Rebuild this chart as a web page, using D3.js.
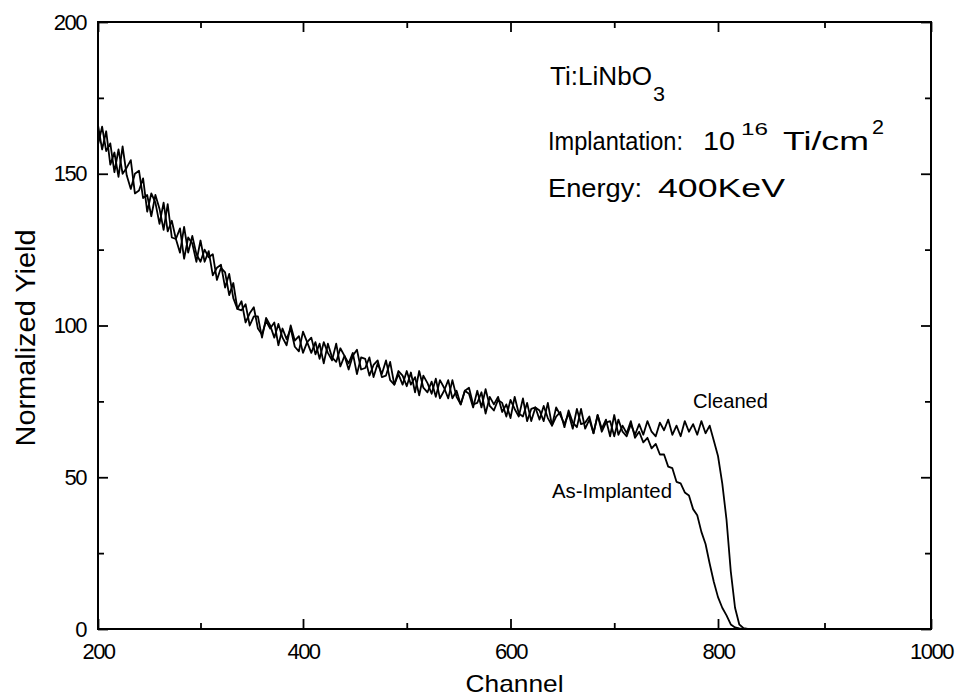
<!DOCTYPE html>
<html>
<head>
<meta charset="utf-8">
<script src="https://cdn.jsdelivr.net/npm/d3@7"></script>
<style>
  body { margin: 0; background: #fff; }
  text { font-family: "Liberation Sans", Arial, sans-serif; fill: #000; }
</style>
</head>
<body>
<svg id="chart" width="956" height="700"></svg>
<script>
// RBS spectra, Ti:LiNbO3, every 4 channels
const channel = d3.range(200, 832, 4).concat([860, 900, 950, 1000]);

const asImplanted = [
  166, 158, 164, 153, 157, 149, 159, 149.5, 145, 150,
  151, 142, 143, 136, 143, 138.5, 131.5, 140, 129, 128.5,
  132, 122, 129, 127, 121, 128, 121, 124.5, 116.5, 119,
  120, 112.5, 117, 109, 105.5, 108, 101, 104, 106, 99,
  97, 101.5, 99, 101, 93.5, 99, 95.5, 99, 93, 91.5,
  98, 94.5, 91, 94.5, 89, 94.5, 91, 88.5, 94, 86.5,
  90, 87.5, 91, 84, 89.5, 89, 83.5, 87, 88.5, 83,
  83.5, 88, 80.5, 84, 80.5, 85, 80.5, 83, 77, 83.5,
  81, 77.5, 82.5, 76, 78.5, 82, 76, 78.5, 74, 78.5,
  79.5, 74, 74.5, 78, 71, 76.5, 74, 76.5, 71.5, 74,
  69.5, 76.5, 71, 70, 74.5, 68.5, 73, 72, 68.5, 74.5,
  67, 70, 71.5, 66.5, 72, 68, 66.5, 72.5, 66, 69,
  64.5, 70.5, 66, 69, 63.5, 70.5, 64, 67, 64.5, 68.5, 63,
  65, 61.5, 63, 59.5, 61, 57.5, 57.5, 53.5, 53, 48.5,
  48, 45, 44, 39.5, 37.5, 32, 28, 21.5, 15.5, 10.5,
  7, 4.5, 1.5, 0.5, 0.2, 0, 0,
  0, 0, 0, 0
];

const cleaned = [
  159.5, 165.5, 157.5, 160, 150.5, 158, 150, 152, 154.5, 143.5,
  144.5, 148.5, 137.5, 143.5, 140.5, 133.5, 140.5, 131, 134.5, 128.5,
  124, 132.5, 124, 129.5, 123.5, 121, 125, 122.5, 123.5, 115,
  119, 117.5, 110, 114, 105.5, 105, 107, 100, 103, 103,
  96, 102.5, 100, 96, 100.5, 96, 93.5, 100, 95, 96.5,
  91, 94.5, 96, 90.5, 94, 87.5, 94, 89.5, 88, 92.5,
  90, 85.5, 90, 92, 85.5, 86, 89.5, 83, 87.5, 84,
  88.5, 82, 80.5, 85, 83.5, 80, 84.5, 78, 85, 79.5,
  78, 81.5, 76.5, 82, 79.5, 76, 82, 76.5, 74, 78.5,
  77.5, 73, 78.5, 73, 79, 73.5, 72, 75.5, 74.5, 70,
  75.5, 72.5, 70, 76, 68.5, 72.5, 73, 69, 73.5, 69.5,
  67, 73, 70.5, 67.5, 71, 66, 72.5, 67.5, 68, 70,
  64.5, 70.5, 65, 68, 68.5, 63.5, 69, 65, 63.5, 67.5, 64,
  67.5, 64, 68.5, 65, 63.5, 68, 65.5, 69, 64, 67,
  63.5, 68.5, 65, 67.5, 64, 68.5, 64.5, 67, 62, 57,
  48, 36, 19, 7, 1.5, 0.3, 0,
  0, 0, 0, 0
];

const xMajor = [200, 400, 600, 800, 1000];
const xMinor = [300, 500, 700, 900];
const yMajor = [0, 50, 100, 150, 200];
const yMinor = [25, 75, 125, 175];

const svg = d3.select("#chart");

// the scanned axis is slightly stretched, so the channel scale is calibrated on the ticks
const x = d3.scaleLinear().domain([200, 400, 800, 1000]).range([98, 303, 718, 931]);
const y = d3.scaleLinear().domain([0, 200]).range([629, 22]);

const [x0, x1] = [x(200), x(1000)];
const [y0, y1] = [y(0), y(200)];

function styleAxis(g) {
  g.select(".domain").remove();
  g.selectAll("line").attr("stroke", "#000").attr("stroke-width", 1.8);
  g.selectAll("text")
    .style("font-size", "22px")
    .style("letter-spacing", "-1.5px");
}

// bottom / top
svg.append("g").attr("transform", `translate(0,${y0})`)
  .call(d3.axisBottom(x).tickValues(xMajor).tickSize(-10).tickPadding(14).tickFormat(d3.format("d")))
  .call(styleAxis);
svg.append("g").attr("transform", `translate(0,${y0})`)
  .call(d3.axisBottom(x).tickValues(xMinor).tickSize(-6).tickFormat(""))
  .call(styleAxis);
svg.append("g").attr("transform", `translate(0,${y1})`)
  .call(d3.axisTop(x).tickValues(xMajor).tickSize(-10).tickFormat(""))
  .call(styleAxis);
svg.append("g").attr("transform", `translate(0,${y1})`)
  .call(d3.axisTop(x).tickValues(xMinor).tickSize(-6).tickFormat(""))
  .call(styleAxis);

// left / right
svg.append("g").attr("transform", `translate(${x0},0)`)
  .call(d3.axisLeft(y).tickValues(yMajor).tickSize(-10).tickPadding(12).tickFormat(d3.format("d")))
  .call(styleAxis);
svg.append("g").attr("transform", `translate(${x0},0)`)
  .call(d3.axisLeft(y).tickValues(yMinor).tickSize(-6).tickFormat(""))
  .call(styleAxis);
svg.append("g").attr("transform", `translate(${x1},0)`)
  .call(d3.axisRight(y).tickValues(yMajor).tickSize(-10).tickFormat(""))
  .call(styleAxis);
svg.append("g").attr("transform", `translate(${x1},0)`)
  .call(d3.axisRight(y).tickValues(yMinor).tickSize(-6).tickFormat(""))
  .call(styleAxis);

// frame
svg.append("rect")
  .attr("x", x0).attr("y", y1)
  .attr("width", x1 - x0).attr("height", y0 - y1)
  .attr("fill", "none").attr("stroke", "#000").attr("stroke-width", 2);

// spectra
const line = d3.line()
  .x((d, i) => x(channel[i]))
  .y(d => y(d));

[asImplanted, cleaned].forEach(s => {
  svg.append("path")
    .datum(s)
    .attr("d", line)
    .attr("fill", "none")
    .attr("stroke", "#000")
    .attr("stroke-width", 1.8)
    .attr("stroke-linejoin", "round");
});

// one <text> per line, pieces (sub/superscripts) as tspans squeezed to the scan's widths
function textLine(parts) {
  const t = svg.append("text");
  parts.forEach(p => {
    t.append("tspan")
      .attr("x", p.x).attr("y", p.y)
      .style("font-size", p.size + "px")
      .attr("textLength", p.len)
      .attr("lengthAdjust", "spacingAndGlyphs")
      .text(p.s);
  });
  return t;
}

// axis titles
textLine([{ s: "Channel", x: (x0 + x1) / 2 - 49, y: 692, size: 24, len: 98 }]);
svg.append("text")
  .attr("text-anchor", "middle")
  .attr("transform", "translate(35,338) rotate(-90)")
  .style("font-size", "27px")
  .attr("textLength", 217)
  .attr("lengthAdjust", "spacingAndGlyphs")
  .text("Normalized Yield");

// annotation block
textLine([
  { s: "Ti:LiNbO", x: 550, y: 85, size: 25.5, len: 102 },
  { s: "3", x: 653, y: 101, size: 21, len: 12 }
]);
textLine([
  { s: "Implantation:", x: 548, y: 150, size: 26, len: 135 },
  { s: "10", x: 703, y: 150, size: 26, len: 32 },
  { s: "16", x: 741, y: 135, size: 17, len: 27 },
  { s: "Ti/cm", x: 783, y: 150, size: 26, len: 86 },
  { s: "2", x: 872, y: 134, size: 20, len: 12 }
]);
textLine([
  { s: "Energy:", x: 548, y: 197, size: 26, len: 94 },
  { s: "400KeV", x: 658, y: 197, size: 26, len: 127 }
]);

// curve labels
textLine([{ s: "Cleaned", x: 693, y: 408, size: 21, len: 75 }]);
textLine([{ s: "As-Implanted", x: 552, y: 498, size: 21, len: 120 }]);
</script>
</body>
</html>
